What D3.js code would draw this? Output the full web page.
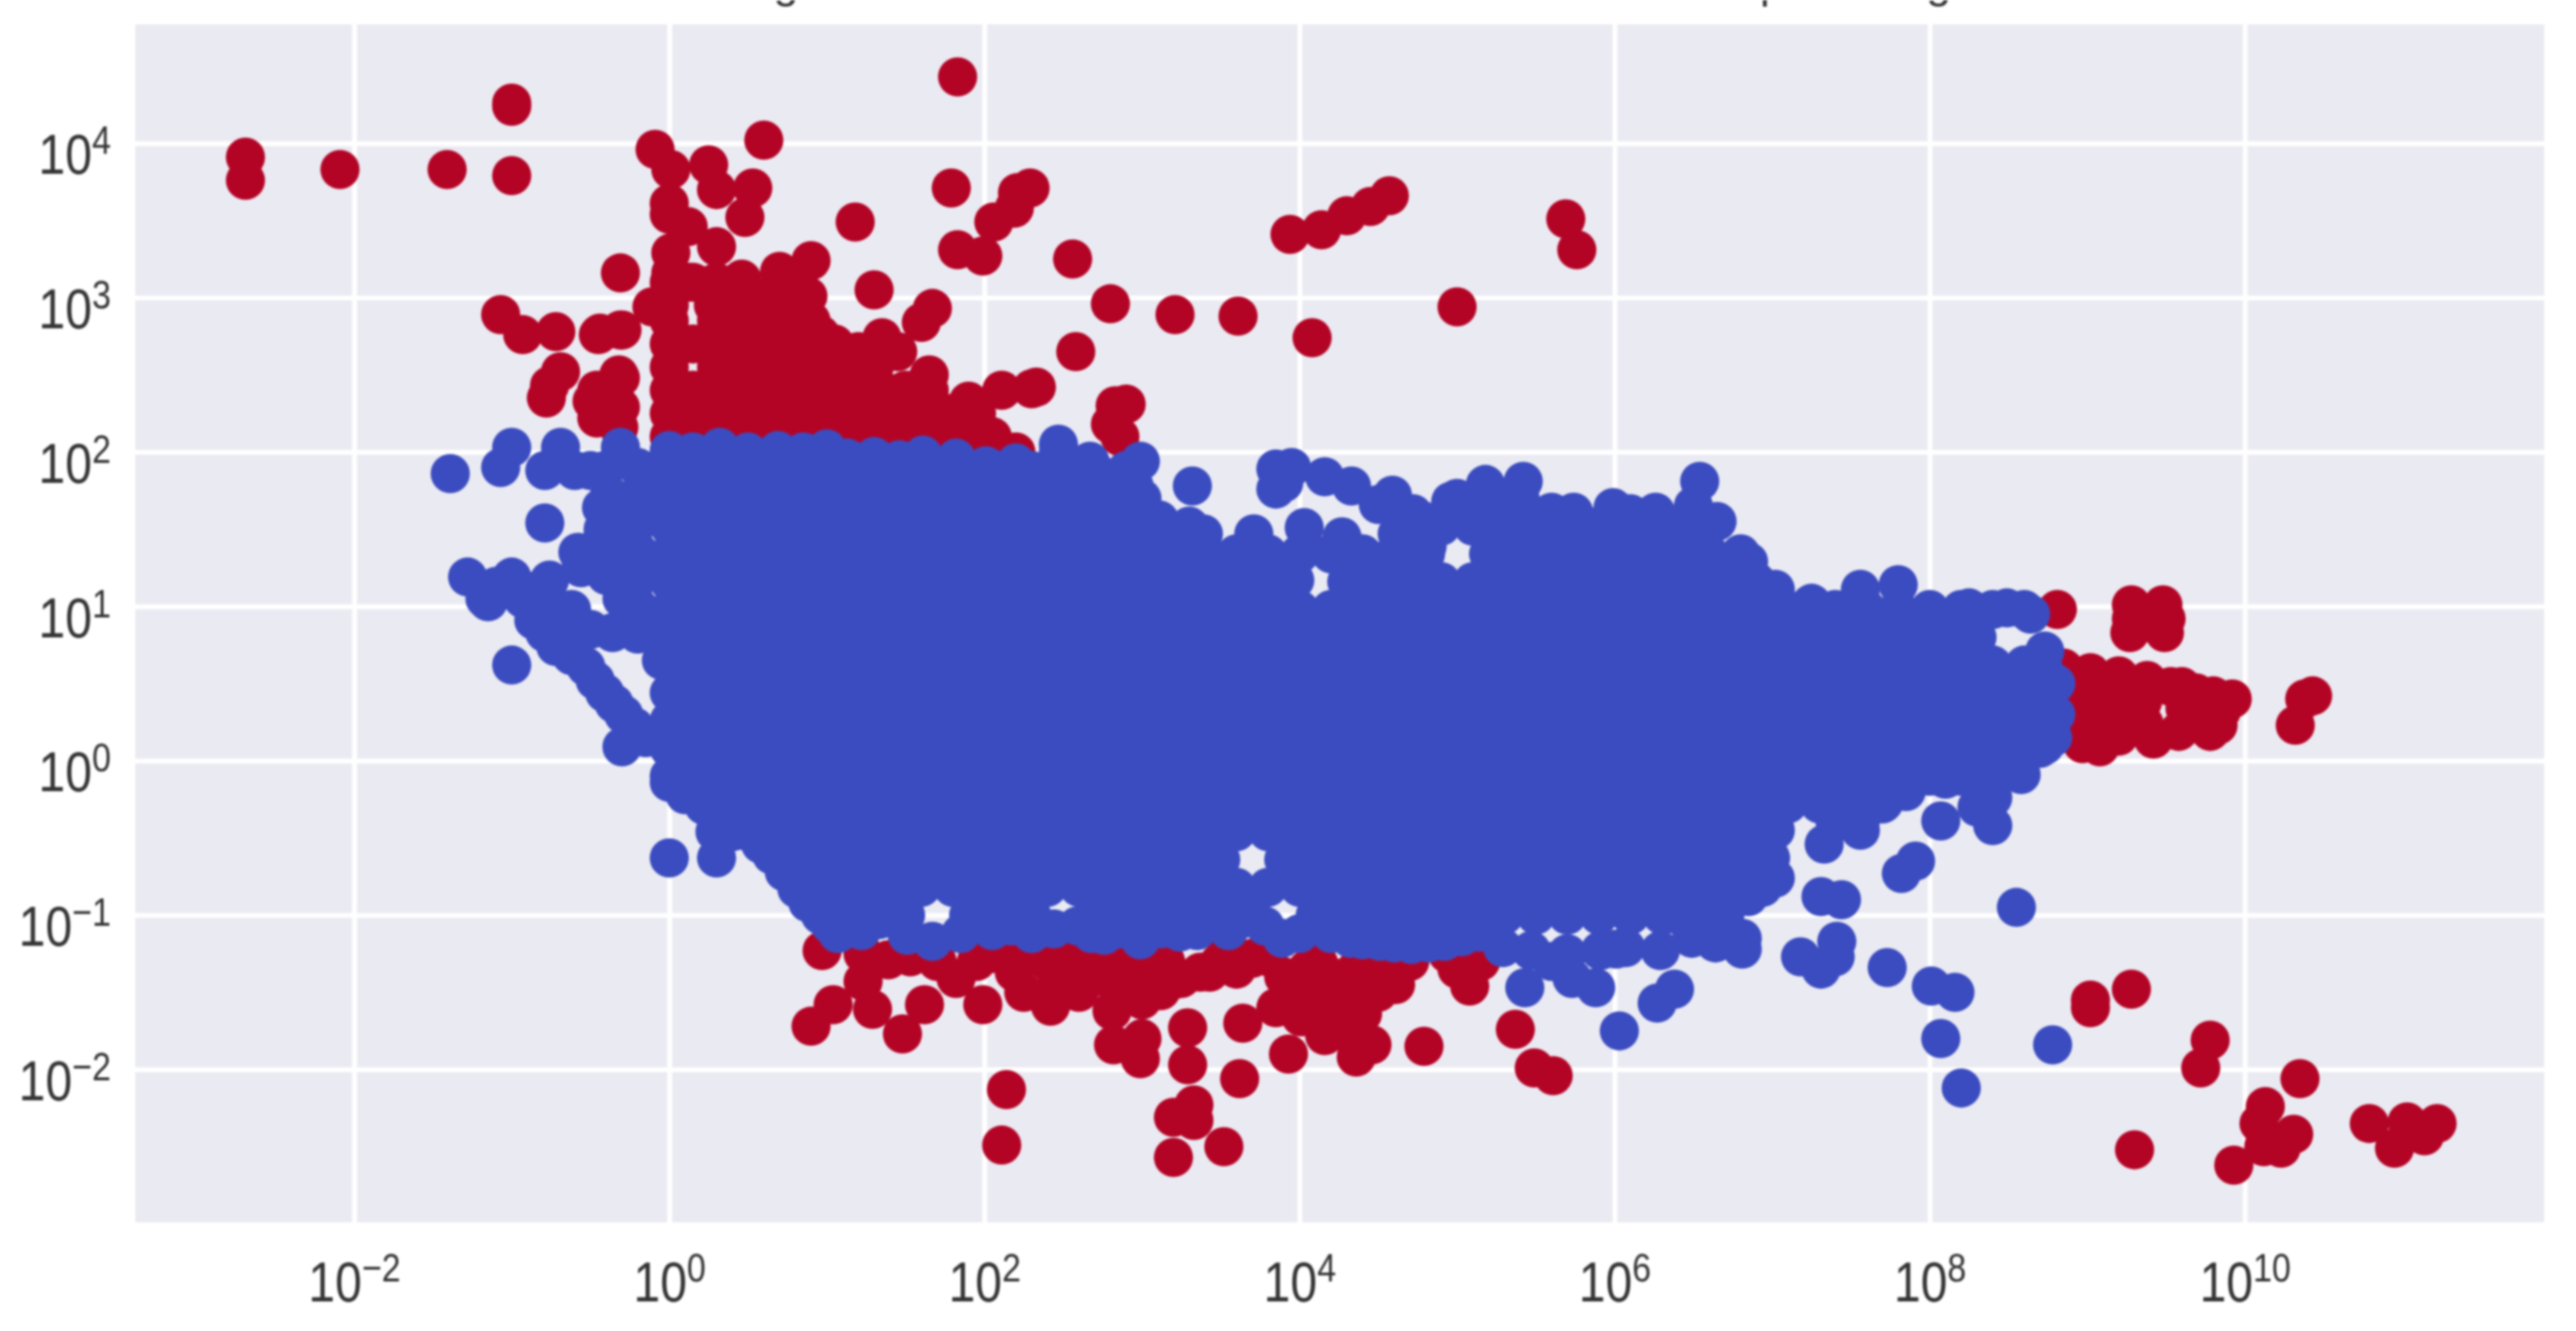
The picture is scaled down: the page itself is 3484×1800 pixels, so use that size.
<!DOCTYPE html>
<html>
<head>
<meta charset="utf-8">
<script src="https://cdnjs.cloudflare.com/ajax/libs/d3/7.8.5/d3.min.js"></script>
<style>
  html, body { margin: 0; background: #fff; }
  svg { display: block; filter: blur(1.5px); }
  .tick line { stroke: #fff; stroke-width: 6.5; }
  .tick text { font-family: "Liberation Sans", Arial, sans-serif; font-size: 65px; fill: #333; }
  .tick text .sup { font-size: 46px; }
  .title-rest { font-family: "Liberation Sans", Arial, sans-serif; font-size: 60px; fill: #333; text-anchor: middle; }
</style>
</head>
<body>
<div id="chart"></div>
<script>
// all values are log10 of the data value
const xTickExps = [-2, 0, 2, 4, 6, 8, 10];
const yTickExps = [-2, -1, 0, 1, 2, 3, 4];
const titleGlyphs = [["g", 1063], ["p", 2397], ["g", 2622]]; // only the descenders survive the crop

// red dots, [log x, log y]
const redTop = [
  [-2.69,3.91],[-2.69,3.76],[-2.09,3.83],[-1.41,3.83],[-1,4.26],[-1,4.24],[-1,3.79],[1.83,4.43],
  [-.09,3.96],[.01,3.83],[.25,3.86],[.6,4.02],[.3,3.7],[.53,3.71],[.48,3.52],[0,3.61],[0,3.54],
  [.12,3.46],[.3,3.33],[.01,3.29],[.01,3.16],[-.31,3.16],[.7,3.17],[.9,3.24],[.46,3.12],[.88,3.01],
  [1.18,3.49],[1.3,3.05],[1.79,3.71],[2.29,3.71],[2.21,3.68],[2.19,3.58],[2.06,3.49],[1.83,3.31],
  [1.99,3.27],[2.56,3.25],[1.67,2.93],[1.6,2.84],[1.35,2.74],[1.65,2.5],[2.58,2.65],[2.8,2.96],
  [2.3,2.41],[2.11,2.4],[1.9,2.33],[.96,2.76],[-.11,2.94],[-.31,2.79],[-.44,2.77],[-.31,2.48],
  [-.31,2.29],[-.46,2.4],[-.46,2.22],[-1.07,2.89],[-.93,2.76],[-.72,2.78],[-.45,2.76],[-.3,2.79],
  [-.69,2.52],[-.78,2.35],[-.49,2.33],[-.32,2.5],[-.32,2.3],[-.32,2.16],[-.76,2.43],
  [3.94,3.41],[4.14,3.44],[4.3,3.53],[4.45,3.59],[4.57,3.66],[5.69,3.51],[5.76,3.31],[5,2.94],
  [4.08,2.74],[3.61,2.88],[3.21,2.89],[2.33,2.42],[2.9,2.31],[2.8,2.18],[2.86,2.1],[2.83,2.3],
  [.15,3.1],[.6,3],[.75,3.05],[1.45,2.65],[1.2,2.65]
];
// the solid red mass above the blue one
const redMassLogY = [3.1, 2.95, 2.85, 2.7, 2.55, 2.4, 2.25, 2.1, 2];
const redMassLogX = [
  [0,.12,.3,.46],
  [0,.28,.42,.55,.7,.85],
  [0,.3,.45,.6,.75,.9],
  [0,.15,.3,.45,.6,.75,.9,1.05],
  [0,.3,.45,.6,.75,.9,1.05,1.2,1.3],
  [0,.15,.3,.45,.6,.75,.9,1.05,1.2,1.35,1.5,1.65],
  [0,.15,.3,.45,.6,.75,.9,1.05,1.2,1.35,1.5,1.65,1.8,1.95],
  [0,.15,.3,.45,.6,.75,.9,1.05,1.2,1.35,1.5,1.65,1.8,1.95,2.05],
  [0,.15,.3,.45,.6,.75,.9,1.05,1.2,1.35,1.5,1.65,1.8,1.95,2.05,2.2]
];
const redBottom = [
  [.97,-1.23],[.9,-1.72],[1.04,-1.58],[1.23,-1.25],[1.23,-1.43],[1.29,-1.61],[1.48,-1.77],[1.62,-1.58],
  [1.39,-1.29],[1.53,-1.27],[1.82,-1.41],[1.99,-1.58],[2.04,-1.25],[2.19,-1.37],[2.3,-1.23],[2.42,-1.59],
  [2.46,-1.45],[2.57,-1.29],[2.79,-1.38],[2.81,-1.62],[2.82,-1.84],[3,-1.8],[2.99,-1.93],[2.98,-1.38],
  [3.12,-1.49],[3.29,-1.73],[3.29,-1.97],[2.14,-2.13],[2.11,-2.49],[3.2,-2.31],[3.33,-2.23],[3.33,-2.33],
  [3.2,-2.57],[3.52,-2.5],[2.69,-1.31],[2.89,-1.33],[3.18,-1.43],[3.37,-1.37],[3.49,-1.31],
  [3.62,-2.06],[3.64,-1.7],[3.85,-1.6],[3.93,-1.9],[4.16,-1.78],[4.36,-1.92],[4.46,-1.84],[4.4,-1.64],
  [4.61,-1.45],[4.12,-1.31],[4.28,-1.49],[4.11,-1.52],[4.01,-1.66],[4.48,-1.38],[4.2,-1.64],[4.79,-1.85],
  [5.08,-1.46],[4.94,-1.25],[5.37,-1.74],[5.49,-1.99],[5.61,-2.04],[3.8,-1.27],[3.54,-1.23],[3.43,-1.37],
  [3.09,-1.49],[3.25,-1.41],[4.36,-1.35],[4.25,-1.75],[4.3,-1.62],
  [1.7,-1.3],[1.95,-1.3],[2.15,-1.25],[2.4,-1.3],[2.7,-1.4],[2.9,-1.45],[3,-1.55],[3.6,-1.35],[3.7,-1.28],
  [3.9,-1.4],[4,-1.5],[4.05,-1.35],[4.2,-1.4],[4.5,-1.5],[4.55,-1.3],[4.7,-1.3],[5,-1.35],[5.15,-1.3],
  [2.6,-1.5],[2.25,-1.5],[3.15,-1.3],
  [9.02,-1.6],[9.02,-1.55],[9.28,-1.48],[9.78,-1.81],[9.72,-1.99],[9.3,-2.52],[9.93,-2.62],[10.35,-2.06],
  [10.13,-2.24],[10.09,-2.35],[10.31,-2.42],[10.23,-2.51],[10.12,-2.5],[10.79,-2.35],[10.95,-2.51],
  [11.14,-2.43],[11.03,-2.34],[11.22,-2.35]
];
const redRight = [
  [8.81,.98],[9.28,1.01],[9.27,.83],[9.48,1.01],[9.49,.83],[9.28,.92],[9.5,.92],
  [10.43,.42],[10.32,.23],[10.38,.4],
  [9.02,.57],[9.2,.55],[9.38,.52],[9.69,.44],[9.92,.4],[9.83,.23],[9.78,.19],[9.58,.19],[9.42,.14],
  [9.08,.09],[8.97,.11],[9.2,.16],[9.02,.34],[9.2,.37],[9.35,.38],[9.53,.48],[9.72,.34],[9.28,.26],[9,.21],
  [8.85,.4],[8.85,.2],[8.85,.6],[8.92,.5],[9.1,.45],[9.1,.25],[9.36,.24],[9.62,.34],[9.85,.32],[9.8,.42],[9.6,.48]
];

// blue dots along the edge of the mass and the stragglers
const blueEdge = [
  [-1.39,1.86],[-1.07,1.9],[-1,2.03],[-.69,2.03],[-.79,1.88],[-.6,1.88],[-.5,1.88],[-.79,1.54],[-.43,1.64],
  [-.31,2.03],[-.41,1.88],[-1.28,1.19],[-1.17,1.05],[-1,1.19],[-1.15,1.03],[-.86,.91],[-.72,.74],[-.53,.61],
  [-.41,.44],[-.29,.3],[-.3,.09],[-1,.62],[0,-.14],[0,-.63],[.3,-.63],[-.56,1.25],[-.58,1.35],[-.76,1.17],
  [-.3,1.05],[-.62,.98],[-.36,.83],[-.36,1.37],[-.36,1.6],[-.9,1.1],[-.75,1],
  [-.2,1.9],[-.2,1.72],[-.2,1.54],[-.2,1.36],[-.2,1.18],[-.2,1],[-.2,.82],[-.4,1.2],[-.15,.15],
  [0,1.88],[0,1.52],[0,1.16],[0,.8],[0,.44],[0,.08],
  [-.38,1.72],[-.42,1.5],[-.46,1.38],[-.3,1.2],[-.1,1.63],[-.1,1.27],[-.1,.91],[-.05,.65],[-.1,1.8],
  [-.62,.68],[-.47,.52],[-.35,.37],[-.22,.22],[-.79,.83],[-1.1,1.13],[-.93,1.05],[-.8,1.05],[-.5,.85],[-.65,.85],
  [.1,-.22],[.36,-.38],[.58,-.54],[.73,-.72],[.88,-.92],[1.02,-1.06],[.15,-.1],
  [.22,-.29],[.29,-.46],[.5,-.46],[.65,-.61],[.81,-.83],[.96,-1],[1.07,-1.12],
  [1.67,-1.17],[1.08,-1.07],[1.33,-1.03],[1.51,-1.13],[1.93,-1.03],[2.44,-1.09],[2.17,-1.07],[2.76,-1.13],
  [2.99,-1.16],[2.59,-1.07],[2.87,-1.09],[3.24,-1.11],[3.45,-1.01],[3.12,-1.09],[3.41,-1.03],[3.62,-1.03],
  [3.89,-1.15],[3.78,-1.07],[4.09,-1.07],[4.32,-1.15],[4.51,-1.17],[4.71,-1.19],[4.92,-1.17],[5.14,-1.11],
  [5.43,-1.47],[5.29,-1.21],[5.47,-1.23],[5.73,-1.41],[5.88,-1.47],[6.03,-1.75],[5.7,-1.25],[5.91,-1.23],
  [6.07,-1.21],[6.27,-1.57],[6.38,-1.48],[6.29,-1.23],[6.81,-1.22],[5.6,-1.3],
  [1.22,-1.1],[1.85,-1.12],[2.05,-1.1],[2.3,-1.12],[2.68,-1.12],[3.35,-1.1],[3.55,-1.1],[4,-1.12],[4.2,-1.12],
  [4.4,-1.16],[4.6,-1.18],[4.82,-1.18],[5.03,-1.14],[6.5,-1.08],
  [7.18,-1.27],[7.31,-1.35],[7.4,-1.27],[7.41,-1.17],[7.73,-1.34],[8.01,-1.46],[8.16,-1.5],[8.07,-1.8],
  [8.2,-2.12],[8.78,-1.84],[8.55,-.95],[7.82,-.73],[7.91,-.65],[7.31,-.88],[7.44,-.9],[7.33,-.54],
  [7.56,-.45],[8.07,-.39],[8.4,-.42],[6.01,-1.22],[6.49,-1.15],[6.64,-1.18],[6.81,-1.15],[6.94,-.82],
  [6.99,-.63],[7.02,-.45],[7.02,-.76],[6.85,-.88],[6.22,-.94],[6.4,-1],[6.6,-1],
  [7.56,-.39],[7.71,-.27],[7.92,-.09],[8.1,-.12],[8.4,-.24],[8.58,-.09],[8.73,.1],[8.76,.31],[8.76,.5],
  [8.8,.5],[8.8,.3],[8.78,.15],[8.72,.6],[7.4,-.4],[7.85,-.2],[8.25,-.05],[8.3,-.3],
  [8.73,.71],[8.64,.95],[8.49,.99],[8.25,.99],[8.01,.95],[7.8,1.14],[7.56,1.11],[7.25,1.02],[7.02,1.11],
  [6.85,1.29],[6.65,1.55],[6.54,1.81],[6.26,1.61],[5.99,1.64],[5.74,1.61],[6.1,1.6],[6.5,1.65],
  [2.47,2],[2.69,1.89],[2.99,1.94],[2.95,1.78],[3.32,1.78],[3.11,1.56],[3.39,1.47],[3.71,1.47],[4.03,1.51],
  [4.27,1.45],[3.85,1.89],[3.95,1.9],[3.85,1.76],[3.9,1.8],[4.16,1.84],[4.33,1.78],[4.59,1.72],[4.5,1.66],
  [4.96,1.68],[5.18,1.79],[5.42,1.81],[4.81,1.39],[4.62,1.47],[5.6,1.61],[4.72,1.6],[4.8,1.55],[4.26,1.32],
  [4.45,1.27],[3.97,1.17],
  [0,2.01],[.32,2.03],[.69,2.01],[1,2.02],[1.13,1.96],[1.46,1.95],[1.61,1.98],[1.82,1.96],[2.01,1.91],
  [2.2,1.93],[2.47,2.05],[2.67,1.94],[.15,2],[.5,2],[.85,2],[1.3,1.97]
];

// the mass itself: too overplotted to read single dots, so each row holds dots
// placed by eye inside the outline seen at that height
const blueRowLogY = [1.88,1.7,1.52,1.34,1.16,.98,.8,.62,.44,.26,.08,-.1,-.28,-.46,-.64,-.82,-1];
const blueRowLogX = [
  [.1,.3,.5,.7,.9,1.1,1.3,1.5,1.7,1.9,2.1,2.3,2.5,2.7,2.9],
  [0,.2,.4,.6,.8,1,1.2,1.4,1.6,1.8,2,2.2,2.4,2.6,2.8,3,5,5.2,5.4],
  [.1,.3,.5,.7,.9,1.1,1.3,1.5,1.7,1.9,2.1,2.3,2.5,2.7,2.9,3.1,3.3,4.9,5.1,5.3,5.5,5.7,5.9,6.1,6.3,6.5],
  [0,.2,.4,.6,.8,1,1.2,1.4,1.6,1.8,2,2.2,2.4,2.6,2.8,3,3.2,3.4,3.6,3.8,4,4.2,4.4,4.6,4.8,5.2,5.4,5.6,5.8,6,6.2,6.4,6.6,6.8],
  [.1,.3,.5,.7,.9,1.1,1.3,1.5,1.7,1.9,2.1,2.3,2.5,2.7,2.9,3.1,3.3,3.5,3.7,3.9,4.3,4.5,4.7,4.9,5.1,5.3,5.5,5.7,5.9,6.1,6.3,6.5,6.7,6.9],
  [0,.2,.4,.6,.8,1,1.2,1.4,1.6,1.8,2,2.2,2.4,2.6,2.8,3,3.2,3.4,3.6,3.8,4,4.2,4.4,4.6,4.8,5,5.2,5.4,5.6,5.8,6,6.2,6.4,6.6,6.8,7,7.2,7.4,7.6,7.8,8,8.2,8.4,8.6],
  [.1,.3,.5,.7,.9,1.1,1.3,1.5,1.7,1.9,2.1,2.3,2.5,2.7,2.9,3.1,3.3,3.5,3.7,3.9,4.1,4.3,4.5,4.7,4.9,5.1,5.3,5.5,5.7,5.9,6.1,6.3,6.5,6.7,6.9,7.1,7.3,7.5,7.7,7.9,8.1,8.3],
  [0,.2,.4,.6,.8,1,1.2,1.4,1.6,1.8,2,2.2,2.4,2.6,2.8,3,3.2,3.4,3.6,3.8,4,4.2,4.4,4.6,4.8,5,5.2,5.4,5.6,5.8,6,6.2,6.4,6.6,6.8,7,7.2,7.4,7.6,7.8,8,8.2,8.4,8.6],
  [.1,.3,.5,.7,.9,1.1,1.3,1.5,1.7,1.9,2.1,2.3,2.5,2.7,2.9,3.1,3.3,3.5,3.7,3.9,4.1,4.3,4.5,4.7,4.9,5.1,5.3,5.5,5.7,5.9,6.1,6.3,6.5,6.7,6.9,7.1,7.3,7.5,7.7,7.9,8.1,8.3,8.5,8.7],
  [0,.2,.4,.6,.8,1,1.2,1.4,1.6,1.8,2,2.2,2.4,2.6,2.8,3,3.2,3.4,3.6,3.8,4,4.2,4.4,4.6,4.8,5,5.2,5.4,5.6,5.8,6,6.2,6.4,6.6,6.8,7,7.2,7.4,7.6,7.8,8,8.2,8.4,8.6],
  [.1,.3,.5,.7,.9,1.1,1.3,1.5,1.7,1.9,2.1,2.3,2.5,2.7,2.9,3.1,3.3,3.5,3.7,3.9,4.1,4.3,4.5,4.7,4.9,5.1,5.3,5.5,5.7,5.9,6.1,6.3,6.5,6.7,6.9,7.1,7.3,7.5,7.7,7.9,8.1,8.3,8.5,8.7],
  [0,.2,.4,.6,.8,1,1.2,1.4,1.6,1.8,2,2.2,2.4,2.6,2.8,3,3.2,3.4,3.6,3.8,4,4.2,4.4,4.6,4.8,5,5.2,5.4,5.6,5.8,6,6.2,6.4,6.6,6.8,7,7.2,7.4,7.6,7.8,8,8.2,8.4],
  [.3,.5,.7,.9,1.1,1.3,1.5,1.7,1.9,2.1,2.3,2.5,2.7,2.9,3.1,3.3,3.5,3.7,3.9,4.1,4.3,4.5,4.7,4.9,5.1,5.3,5.5,5.7,5.9,6.1,6.3,6.5,6.7,6.9,7.1,7.3,7.5,7.7],
  [.4,.6,.8,1,1.2,1.4,1.6,1.8,2,2.2,2.4,2.6,2.8,3,3.2,3.4,3.6,3.8,4,4.2,4.4,4.6,4.8,5,5.2,5.4,5.6,5.8,6,6.2,6.4,6.6,6.8,7],
  [.7,.9,1.1,1.3,1.5,1.7,1.9,2.1,2.3,2.5,2.7,2.9,3.1,3.3,3.5,3.9,4.1,4.3,4.5,4.7,4.9,5.1,5.3,5.5,5.7,5.9,6.1,6.3,6.5,6.7,6.9],
  [1,1.2,1.4,1.6,1.8,2,2.2,2.4,2.6,2.8,3,3.2,3.4,3.6,3.8,4,4.2,4.4,4.6,4.8,5,5.2,5.4,5.6,5.8,6,6.2,6.4,6.6,6.8],
  [1.1,1.3,1.5,1.9,2.1,2.3,2.7,2.9,3.1,3.3,3.5,3.7,4.1,4.3,4.5,4.7,4.9,5.1,5.3,5.5,5.7,5.9,6.1,6.3,6.5,6.7]
];

const width = 3484, height = 1800;
const margin = {top: 33, right: 43, bottom: 147, left: 183};
const plotW = width - margin.left - margin.right;
const plotH = height - margin.top - margin.bottom;
const dotRadius = 26.5;
const red = '#b40426', blue = '#3b4cc0';

const pow10 = e => Math.pow(10, e);
const rowsToPoints = (ys, xs) => ys.flatMap((ly, i) => xs[i].map(lx => [lx, ly]));

const redPoints = redTop.concat(rowsToPoints(redMassLogY, redMassLogX), redBottom, redRight);
const bluePoints = rowsToPoints(blueRowLogY, blueRowLogX).concat(blueEdge);

const xScale = d3.scaleLog().domain([pow10(-3.389), pow10(11.9)]).range([0, plotW]);
const yScale = d3.scaleLog().domain([pow10(-2.99), pow10(4.77)]).range([plotH, 0]);

const svg = d3.select('#chart').append('svg')
  .attr('width', width)
  .attr('height', height);

svg.selectAll('text.title-rest')
  .data(titleGlyphs)
  .enter()
  .append('text')
  .attr('class', 'title-rest')
  .attr('x', d => d[1])
  .attr('y', -3)
  .text(d => d[0]);

const plot = svg.append('g')
  .attr('transform', `translate(${margin.left}, ${margin.top})`);

plot.append('rect')
  .attr('width', plotW)
  .attr('height', plotH)
  .attr('fill', '#eaeaf2');

const xAxis = d3.axisBottom(xScale)
  .tickValues(xTickExps.map(pow10))
  .tickSizeInner(-plotH)
  .tickSizeOuter(0)
  .tickFormat('');
const yAxis = d3.axisLeft(yScale)
  .tickValues(yTickExps.map(pow10))
  .tickSizeInner(-plotW)
  .tickSizeOuter(0)
  .tickFormat('');

const xGroup = plot.append('g').attr('transform', `translate(0, ${plotH})`).call(xAxis);
const yGroup = plot.append('g').call(yAxis);
xGroup.select('.domain').remove();
yGroup.select('.domain').remove();

// 10 with the exponent as a raised tspan, squeezed a bit like the blurry original
function powerLabel(sel, exps, anchor, tx, ty) {
  sel.selectAll('.tick text').each(function (d, i) {
    const text = d3.select(this)
      .attr('x', null).attr('y', null).attr('dy', null)
      .attr('text-anchor', anchor)
      .attr('transform', `translate(${tx}, ${ty}) scale(1, 1.17)`)
      .text(null);
    text.append('tspan').text('10');
    text.append('tspan').attr('class', 'sup').attr('dy', -23)
      .text(String(exps[i]).replace('-', '\u2212'));
  });
}
powerLabel(xGroup, xTickExps, 'middle', 0, 107);
powerLabel(yGroup, yTickExps, 'end', -33, 41);

plot.append('g').selectAll('circle')
  .data(redPoints)
  .enter()
  .append('circle')
  .attr('cx', d => xScale(pow10(d[0])))
  .attr('cy', d => yScale(pow10(d[1])))
  .attr('r', dotRadius)
  .attr('fill', red);

plot.append('g').selectAll('circle')
  .data(bluePoints)
  .enter()
  .append('circle')
  .attr('cx', d => xScale(pow10(d[0])))
  .attr('cy', d => yScale(pow10(d[1])))
  .attr('r', dotRadius)
  .attr('fill', blue);
</script>
</body>
</html>
